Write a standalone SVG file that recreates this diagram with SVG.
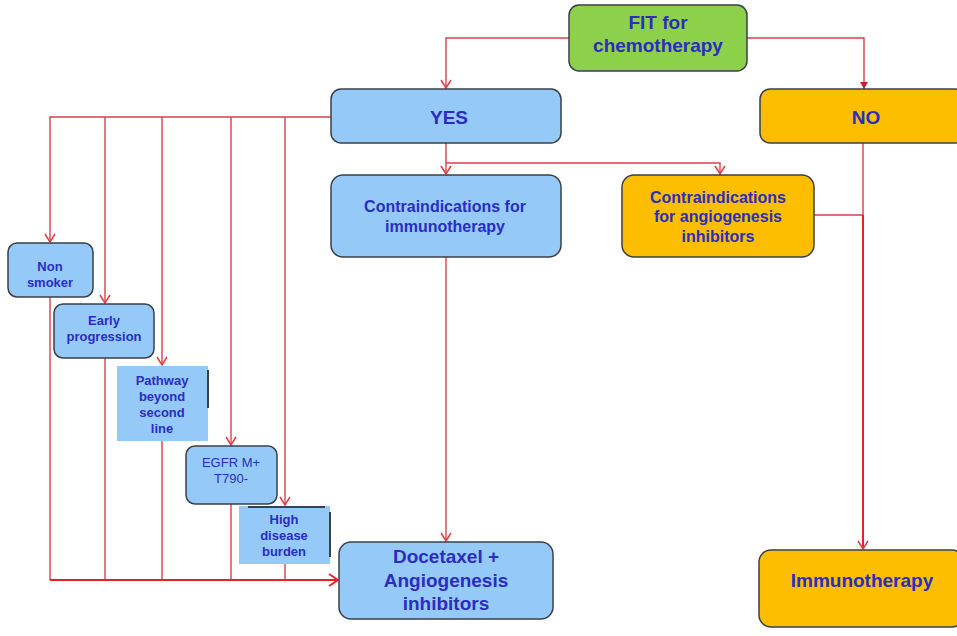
<svg xmlns="http://www.w3.org/2000/svg" width="957" height="636" viewBox="0 0 957 636">
<defs>
<marker id="open" viewBox="0 0 12 12" refX="11" refY="6" markerWidth="12" markerHeight="12" markerUnits="userSpaceOnUse" orient="auto">
<path d="M3,1 L11,6 L3,11" fill="none" stroke="#D9404A" stroke-width="1.5"/>
</marker>
<marker id="openH" viewBox="0 0 14 14" refX="13" refY="7" markerWidth="14" markerHeight="14" markerUnits="userSpaceOnUse" orient="auto">
<path d="M4,1 L13,7 L4,13" fill="none" stroke="#E8202A" stroke-width="2"/>
</marker>
<marker id="filled" viewBox="0 0 10 10" refX="9" refY="5" markerWidth="10" markerHeight="10" markerUnits="userSpaceOnUse" orient="auto">
<path d="M2,1 L9,5 L2,9 Z" fill="#C8202A"/>
</marker>
</defs>
<style>
.blue{fill:#95C9F7;stroke:#3A3F4A;stroke-width:1.5}
.bluesq{fill:#95C9F7;stroke:none}
.orange{fill:#FDBE00;stroke:#3A3F4A;stroke-width:1.5}
.green{fill:#8DD14A;stroke:#3A3F4A;stroke-width:1.5}
text{font-family:"Liberation Sans",Arial,sans-serif;font-weight:bold;fill:#2B2DC0;text-anchor:middle}
.s13{font-size:13px}
.s16{font-size:16px}
.s19{font-size:19px}
.ln{fill:none;stroke:#D9404A;stroke-width:1.4}
.lnb{fill:none;stroke:#E8202A;stroke-width:2}
</style>
<rect width="957" height="636" fill="#FFFFFF"/>
<g id="connectors">
<path class="ln" d="M569,38 H446 V88" marker-end="url(#open)"/>
<path class="ln" d="M747,38 H864 V89" marker-end="url(#filled)"/>
<path class="ln" d="M331,117 H50 V242" marker-end="url(#open)"/>
<path class="ln" d="M105,117 V303" marker-end="url(#open)"/>
<path class="ln" d="M162,117 V365" marker-end="url(#open)"/>
<path class="ln" d="M231,117 V445" marker-end="url(#open)"/>
<path class="ln" d="M285,117 V505" marker-end="url(#open)"/>
<path class="ln" d="M446,143 V174" marker-end="url(#open)"/>
<path class="ln" d="M446,163 H720 V174" marker-end="url(#open)"/>
<path class="ln" d="M446,257 V541" marker-end="url(#open)"/>
<path class="ln" d="M863,143 V215"/>
<path class="ln" d="M814,215 H863"/>
<path class="lnb" d="M863,215 V549" marker-end="url(#open)"/>
<path class="ln" d="M50,297 V580"/>
<path class="ln" d="M105,358 V580"/>
<path class="ln" d="M162,441 V580"/>
<path class="ln" d="M231,504 V580"/>
<path class="ln" d="M285,564 V580"/>
<path class="lnb" d="M50,580 H338" marker-end="url(#openH)"/>
</g>
<g id="fit">
<rect class="green" x="569" y="5" width="178" height="66" rx="10"/>
<text class="s19" x="658" y="29">FIT for</text>
<text class="s19" x="658" y="52">chemotherapy</text>
</g>
<g id="yes">
<rect class="blue" x="331" y="89" width="230" height="54" rx="10"/>
<text class="s19" x="449" y="124">YES</text>
</g>
<g id="no">
<rect class="orange" x="760" y="89" width="205" height="54" rx="10"/>
<text class="s19" x="866" y="124">NO</text>
</g>
<g id="contra-immuno">
<rect class="blue" x="331" y="175" width="230" height="82" rx="12"/>
<text class="s16" x="445" y="212">Contraindications for</text>
<text class="s16" x="445" y="232">immunotherapy</text>
</g>
<g id="contra-angio">
<rect class="orange" x="622" y="175" width="192" height="82" rx="12"/>
<text class="s16" x="718" y="203">Contraindications</text>
<text class="s16" x="718" y="222">for angiogenesis</text>
<text class="s16" x="718" y="242">inhibitors</text>
</g>
<g id="non-smoker">
<rect class="blue" x="8" y="243" width="85" height="54" rx="9"/>
<text class="s13" x="50" y="271">Non</text>
<text class="s13" x="50" y="287">smoker</text>
</g>
<g id="early-progression">
<rect class="blue" x="54" y="304" width="100" height="54" rx="9"/>
<text class="s13" x="104" y="325">Early</text>
<text class="s13" x="104" y="341">progression</text>
</g>
<g id="pathway">
<rect class="bluesq" x="117" y="366" width="91" height="75"/>
<path d="M208,370 V408" stroke="#3A3F4A" stroke-width="2" fill="none"/>
<text class="s13" x="162" y="385">Pathway</text>
<text class="s13" x="162" y="401">beyond</text>
<text class="s13" x="162" y="417">second</text>
<text class="s13" x="162" y="433">line</text>
</g>
<g id="egfr">
<rect class="blue" x="186" y="446" width="91" height="58" rx="9"/>
<text class="s13" x="231" y="467" style="font-weight:normal">EGFR  M+</text>
<text class="s13" x="231" y="483" style="font-weight:normal">T790-</text>
</g>
<g id="high-burden">
<rect class="bluesq" x="239" y="506" width="91" height="58"/>
<path d="M248,507 H325 M330,512 V557" stroke="#3A3F4A" stroke-width="2" fill="none"/>
<text class="s13" x="284" y="524">High</text>
<text class="s13" x="284" y="540">disease</text>
<text class="s13" x="284" y="556">burden</text>
</g>
<g id="docetaxel">
<rect class="blue" x="339" y="542" width="214" height="77" rx="12"/>
<text class="s19" x="446" y="563">Docetaxel +</text>
<text class="s19" x="446" y="587">Angiogenesis</text>
<text class="s19" x="446" y="610">inhibitors</text>
</g>
<g id="immunotherapy">
<rect class="orange" x="759" y="550" width="205" height="77" rx="12"/>
<text class="s19" x="862" y="587">Immunotherapy</text>
</g>
</svg>
